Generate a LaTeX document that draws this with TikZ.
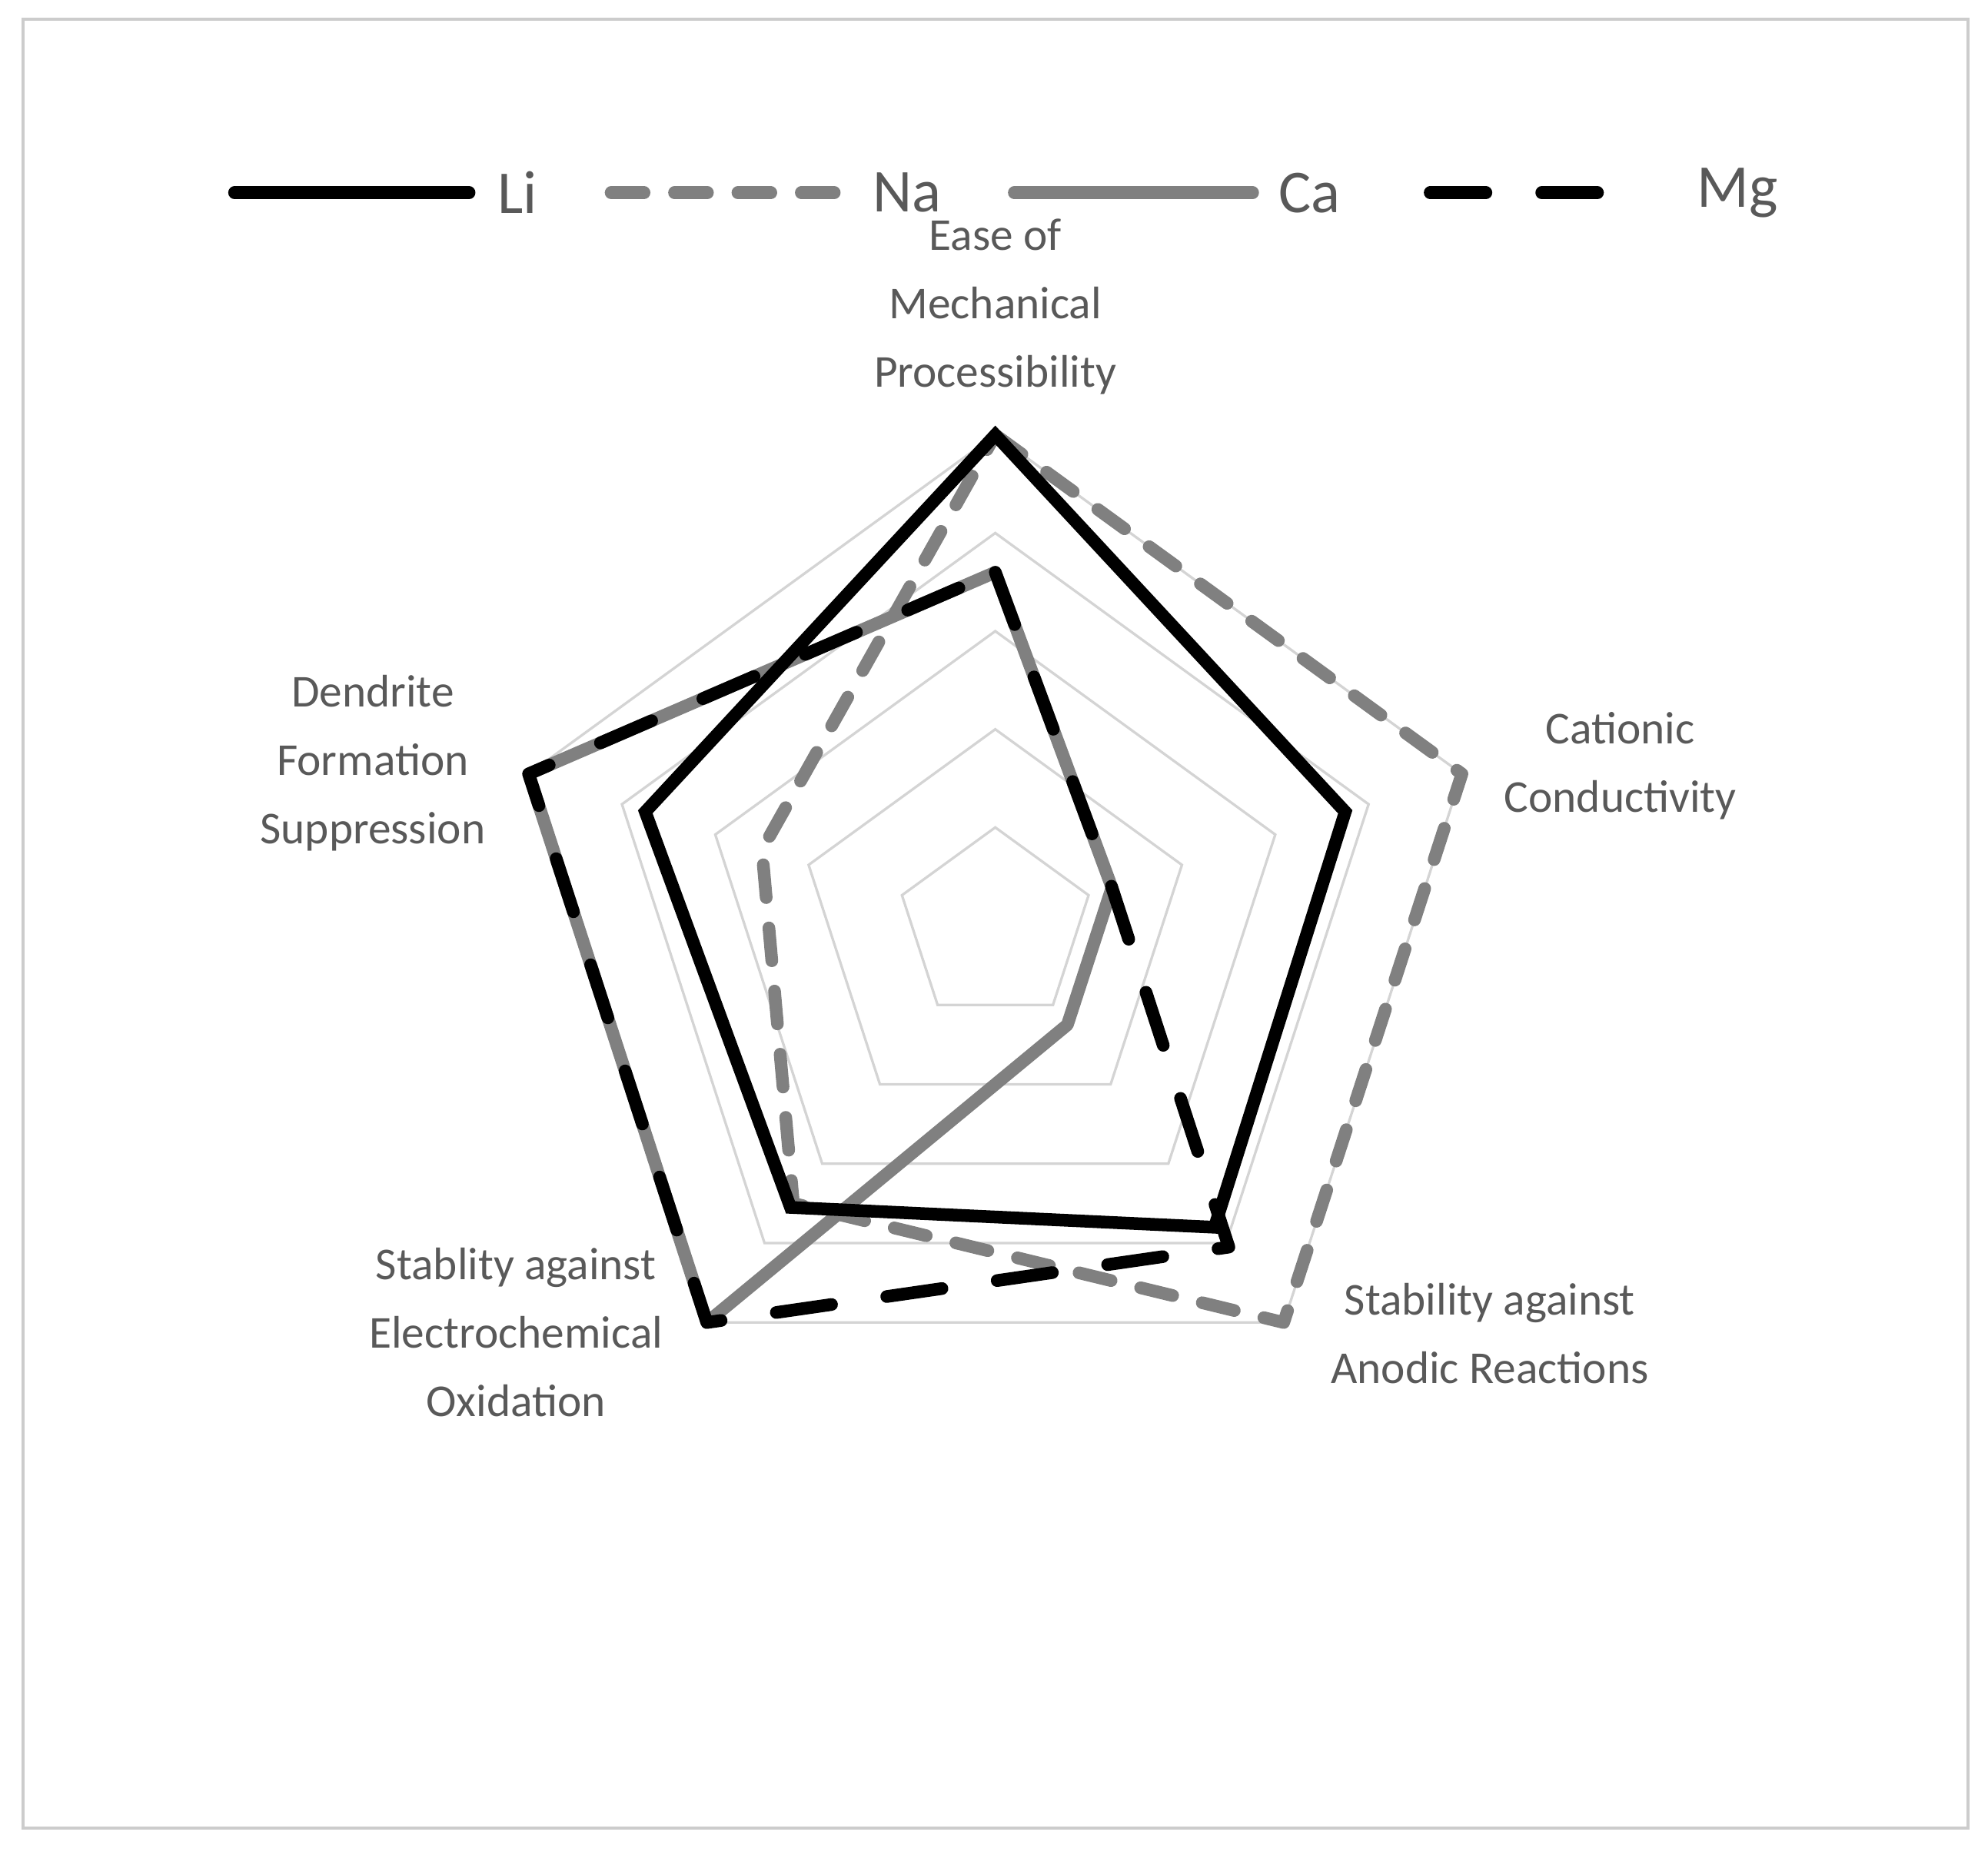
\documentclass[tikz,border=0pt]{standalone}
\usepackage{fontspec}
\setmainfont{Carlito}
\begin{document}
\begin{tikzpicture}[x=0.5pt,y=-0.5pt,
  lbl/.style={text=black!65,font=\fontsize{18}{27}\selectfont,align=center,inner sep=0},
  leg/.style={text=black!65,font=\fontsize{24}{28}\selectfont,inner sep=0},
  grid/.style={draw=black!17,line width=1pt},
  sli/.style={line width=5pt,black,line join=miter},
  sna/.style={line width=5pt,black!50,dash pattern=on 13pt off 12pt,line cap=round,line join=round},
  sca/.style={line width=5pt,black!50,line join=round},
  smg/.style={line width=5pt,black,dash pattern=on 22pt off 22pt,line cap=round,line join=round}]
\useasboundingbox (0,0) rectangle (1568,1463);
\draw[draw=black!20,line width=1.2pt] (18,15) rectangle (1552,1442);
% legend
\draw[sli,line cap=round] (185,152) -- (370,152); \node[leg,anchor=west] (lli) at (392,152) {Li};
\draw[sna] (482,152) -- (668,152); \node[leg,anchor=west] (lna) at (688,152) {Na};
\draw[sca,line cap=round] (800,152) -- (988,152); \node[leg,anchor=west] (lca) at (1008,152) {Ca};
\draw[smg] (1128,152) -- (1300,152); \node[leg,anchor=west] (lmg) at (1338,152) {Mg};
% labels
\node[lbl] (a1) at (785,242) {Ease of\\Mechanical\\Processibility};
\node[lbl] (a2) at (1278,604) {Cationic\\Conductivity};
\node[lbl] (a3) at (1175,1052) {Stability against\\Anodic Reactions};
\node[lbl] (a4) at (407,1051) {Stablity against\\Electrochemical\\Oxidation};
\node[lbl] (a5) at (294,602) {Dendrite\\Formation\\Suppression};
\begin{scope}[shift={(785,730)},x=38.7pt,y=38.7pt]
\foreach \r in {1,...,5}
  \draw[grid] (90:\r) -- (18:\r) -- (-54:\r) -- (-126:\r) -- (162:\r) -- cycle;
\draw[sna] (90:5) -- (18:5) -- (-54:5) -- (-126:3.5) -- (162:2.5) -- cycle;
\draw[sca] (90:3.6) -- (18:1.25) -- (-54:1.25) -- (-126:5) -- (162:5) -- cycle;
\draw[smg] (90:3.6) -- (18:1.25) -- (-54:4.05) -- (-126:5) -- (162:5) -- cycle;
\draw[sli] (90:5) -- (18:3.75) -- (-54:3.8) -- (-126:3.55) -- (162:3.75) -- cycle;
\end{scope}
\end{tikzpicture}
\end{document}
